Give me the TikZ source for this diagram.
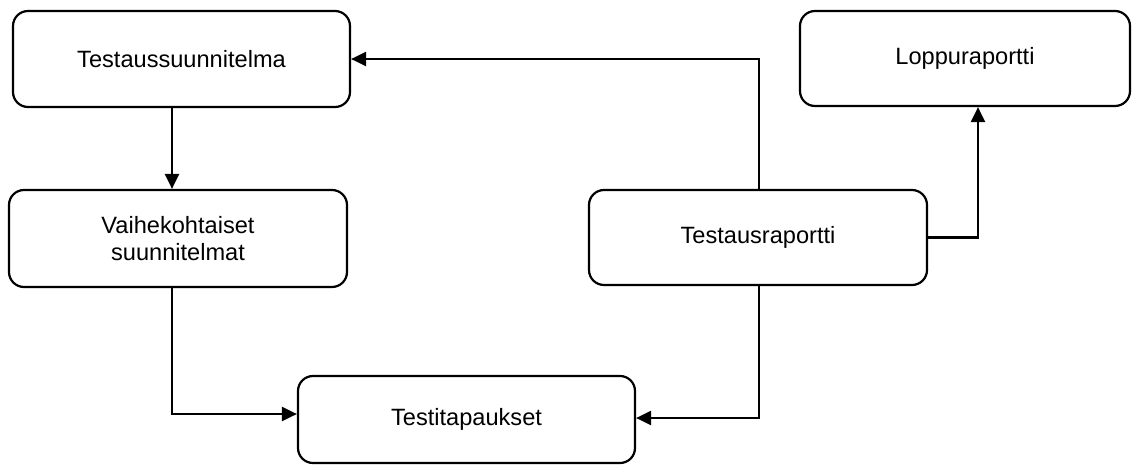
\documentclass[tikz,border=0pt]{standalone}
\usepackage{fontspec}
\setmainfont{Liberation Sans}
\usetikzlibrary{arrows.meta}
\begin{document}
\begin{tikzpicture}[x=1pt,y=-1pt,
  box/.style={draw=black, line width=2.2pt, rounded corners=15pt, rectangle,
    align=center, inner sep=0pt,
    font=\fontsize{23.6}{27}\selectfont},
  arr/.style={draw=black, line width=2.2pt, -{Triangle[length=15pt,width=14pt]}},
  ln/.style={draw=black, line width=2.2pt}]
\useasboundingbox (0,0) rectangle (1136,464);
\node[box, minimum width=337pt, minimum height=96pt] (plan) at (181.5,59) {Testaussuunnitelma};
\node[box, minimum width=330pt, minimum height=95pt] (loppu) at (965,58.5) {Loppuraportti};
\node[box, minimum width=338pt, minimum height=97pt] (vaihe) at (178,238.5) {Vaihekohtaiset\\suunnitelmat};
\node[box, minimum width=338pt, minimum height=95pt] (rap) at (758,237.5) {Testausraportti};
\node[box, minimum width=337pt, minimum height=87pt] (testi) at (466.5,419.5) {Testitapaukset};
\draw[arr] (plan.south -| 172,0) -- (vaihe.north -| 172,0);
\draw[arr] (rap.north -| 759,0) |- (plan.east);
\draw[arr] (rap.east) -| (loppu.south -| 978,0);
\draw[arr] (vaihe.south -| 172,0) |- (testi.west |- 0,414);
\draw[arr] (rap.south -| 759,0) |- (testi.east |- 0,418);
\end{tikzpicture}
\end{document}
